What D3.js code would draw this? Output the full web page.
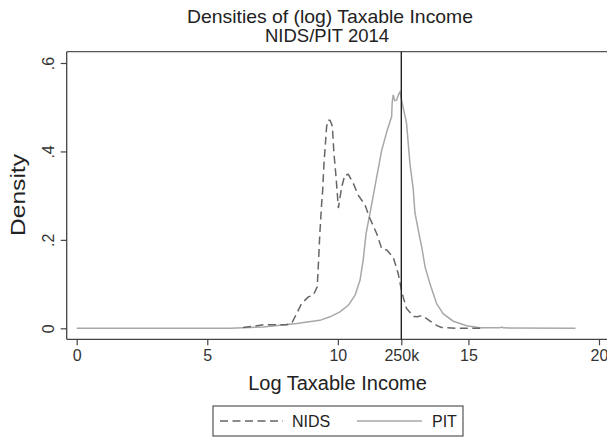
<!DOCTYPE html>
<html>
<head>
<meta charset="utf-8">
<script src="https://cdn.jsdelivr.net/npm/d3@7"></script>
<style>
  body { margin: 0; background: #fff; }
  svg { display: block; font-family: "Liberation Sans", Arial, sans-serif; }
  .tick text { fill: #333; }
</style>
</head>
<body>
<script>
// Data: log taxable income vs kernel density
var nidsX = [6.37, 6.8, 7.15, 7.6, 8.04, 8.23, 8.42, 8.61, 8.87, 9.06, 9.21, 9.25, 9.31, 9.38, 9.42, 9.47, 9.57, 9.63, 9.7, 9.76, 9.79, 9.85, 9.93, 10.02, 10.08, 10.15, 10.27, 10.4, 10.59, 10.78, 11.04, 11.2, 11.49, 11.68, 11.87, 12.12, 12.31, 12.44, 12.5, 12.63, 12.89, 13.05, 13.21, 13.4, 13.59, 13.8, 13.97, 14.5, 15.45];
var nidsY = [0.002, 0.005, 0.008, 0.008, 0.008, 0.011, 0.033, 0.056, 0.071, 0.075, 0.094, 0.139, 0.214, 0.282, 0.313, 0.373, 0.456, 0.471, 0.47, 0.462, 0.456, 0.396, 0.343, 0.272, 0.295, 0.32, 0.347, 0.348, 0.328, 0.301, 0.279, 0.252, 0.214, 0.18, 0.177, 0.161, 0.124, 0.085, 0.071, 0.045, 0.027, 0.026, 0.029, 0.022, 0.014, 0.006, 0.002, 0.0, 0.0];

var pitX = [0, 5.87, 7.14, 8.42, 9.31, 9.7, 10.08, 10.4, 10.66, 10.85, 10.97, 11.08, 11.23, 11.49, 11.68, 11.89, 12.06, 12.08, 12.12, 12.18, 12.25, 12.33, 12.38, 12.44, 12.63, 12.76, 12.89, 12.95, 13.08, 13.21, 13.34, 13.53, 13.78, 14.03, 14.42, 14.93, 15.44, 16.2, 16.27, 16.33, 19.1];
var pitY = [0, 0, 0.003, 0.011, 0.018, 0.026, 0.037, 0.052, 0.075, 0.109, 0.154, 0.214, 0.26, 0.343, 0.403, 0.448, 0.479, 0.51, 0.528, 0.515, 0.516, 0.53, 0.535, 0.516, 0.464, 0.373, 0.313, 0.262, 0.222, 0.184, 0.139, 0.1, 0.056, 0.033, 0.016, 0.006, 0.001, 0.001, 0.003, 0.001, 0];

var xTicks      = [0, 5, 10, 12.43, 15, 20];
var xTickLabels = ["0", "5", "10", "250k", "15", "20"];
var yTicks      = [0, 0.2, 0.4, 0.6];
var yTickLabels = ["0", ".2", ".4", ".6"];
var cutoff      = 12.43;   // ln(250 000)

var width = 607, height = 437;

var svg = d3.select("body").append("svg")
  .attr("width", width).attr("height", height);

// Scales
var x = d3.scaleLinear().domain([0, 20]).range([76.7, 599]);
var y = d3.scaleLinear().domain([0, 0.6]).range([328.3, 63]);

var plotLeft = 66.7, plotTop = 51.7, plotBottom = 339.3;

// Titles
svg.append("text").attr("x", 330).attr("y", 22.5).attr("text-anchor", "middle")
  .attr("font-size", 18.5).attr("fill", "#222")
  .attr("textLength", 286).attr("lengthAdjust", "spacingAndGlyphs")
  .text("Densities of (log) Taxable Income");
svg.append("text").attr("x", 327).attr("y", 42).attr("text-anchor", "middle")
  .attr("font-size", 18.5).attr("fill", "#222").text("NIDS/PIT 2014");

// Plot frame
svg.append("line").attr("x1", plotLeft).attr("x2", width).attr("y1", plotTop).attr("y2", plotTop)
  .attr("stroke", "#555").attr("stroke-width", 1.3);
svg.append("line").attr("x1", plotLeft).attr("x2", plotLeft).attr("y1", plotTop).attr("y2", plotBottom)
  .attr("stroke", "#444").attr("stroke-width", 1.3);
svg.append("line").attr("x1", plotLeft).attr("x2", width).attr("y1", plotBottom).attr("y2", plotBottom)
  .attr("stroke", "#444").attr("stroke-width", 1.3);

// X axis
var xAxis = d3.axisBottom(x).tickValues(xTicks).tickSize(6).tickPadding(4)
  .tickFormat(function(d, i){ return xTickLabels[i]; });
var gx = svg.append("g").attr("transform", "translate(0," + plotBottom + ")").call(xAxis);
gx.select(".domain").remove();
gx.selectAll(".tick line").attr("stroke", "#444").attr("stroke-width", 1.2);
gx.selectAll(".tick text").attr("font-size", 16).attr("font-family", null);

// Y axis, labels turned upright like Stata
var yAxis = d3.axisLeft(y).tickValues(yTicks).tickSize(6)
  .tickFormat(function(d, i){ return yTickLabels[i]; });
var gy = svg.append("g").attr("transform", "translate(" + plotLeft + ",0)").call(yAxis);
gy.select(".domain").remove();
gy.selectAll(".tick line").attr("stroke", "#444").attr("stroke-width", 1.2);
gy.selectAll(".tick text")
  .attr("font-size", 16).attr("font-family", null)
  .attr("transform", "rotate(-90)")
  .attr("x", 0).attr("y", -18.5).attr("dy", "0.35em")
  .attr("text-anchor", "middle");

// Axis titles
svg.append("text").attr("x", 337.5).attr("y", 389.5).attr("text-anchor", "middle")
  .attr("font-size", 20).attr("fill", "#222").text("Log Taxable Income");
svg.append("text").attr("transform", "translate(25,195) rotate(-90)").attr("text-anchor", "middle")
  .attr("font-size", 20).attr("fill", "#222")
  .attr("textLength", 82).attr("lengthAdjust", "spacingAndGlyphs").text("Density");

// Curves
var line = d3.line().x(function(d){ return x(d[0]); }).y(function(d){ return y(d[1]); });
var pit  = d3.zip(pitX, pitY);
var nids = d3.zip(nidsX, nidsY);

svg.append("path").datum(pit).attr("d", line)
  .attr("fill", "none").attr("stroke", "#a8a8a8").attr("stroke-width", 1.5);
svg.append("path").datum(nids).attr("d", line)
  .attr("fill", "none").attr("stroke", "#666").attr("stroke-width", 1.5)
  .attr("stroke-dasharray", "8,4.5");

// 250k threshold
svg.append("line").attr("x1", x(cutoff)).attr("x2", x(cutoff)).attr("y1", plotTop).attr("y2", plotBottom)
  .attr("stroke", "#222").attr("stroke-width", 1.4);

// Legend
var legend = svg.append("g");
legend.append("rect").attr("x", 213).attr("y", 406).attr("width", 250).attr("height", 30)
  .attr("fill", "#fff").attr("stroke", "#555").attr("stroke-width", 1.2);
legend.append("line").attr("x1", 220).attr("x2", 283).attr("y1", 421).attr("y2", 421)
  .attr("stroke", "#666").attr("stroke-width", 1.5).attr("stroke-dasharray", "8,4.5");
legend.append("text").attr("x", 292).attr("y", 427).attr("font-size", 16).attr("fill", "#222").text("NIDS");
legend.append("line").attr("x1", 357).attr("x2", 422).attr("y1", 421).attr("y2", 421)
  .attr("stroke", "#a8a8a8").attr("stroke-width", 1.5);
legend.append("text").attr("x", 432).attr("y", 427).attr("font-size", 16).attr("fill", "#222").text("PIT");
</script>
</body>
</html>
